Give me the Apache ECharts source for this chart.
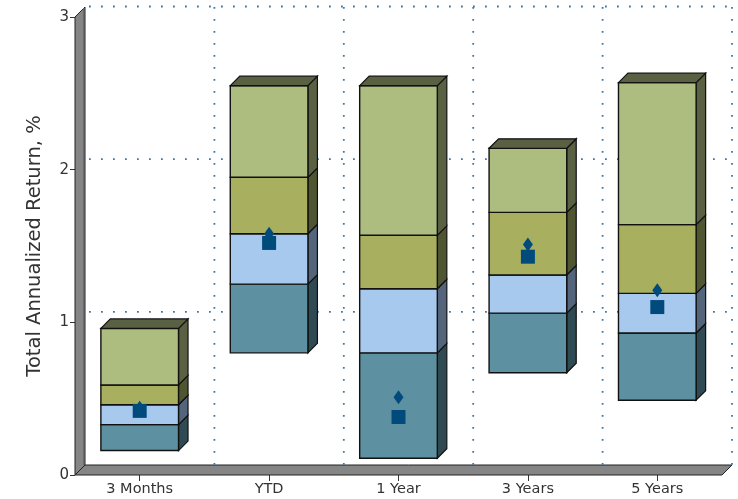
<!DOCTYPE html>
<html>
<head>
<meta charset="utf-8">
<script src="https://cdn.jsdelivr.net/npm/echarts@6/dist/echarts.min.js"></script>
<style>
  html, body { margin: 0; padding: 0; background: #fff; }
  #chart { width: 738px; height: 499px; }
</style>
</head>
<body>
<div id="chart"></div>
<script>
// Return periods on the category axis
const periods = ['3 Months', 'YTD', '1 Year', '3 Years', '5 Years'];

// Range bands: each bar is stacked between these percentile boundaries (%)
const pctLow  = [0.16, 0.80, 0.11, 0.67, 0.49];
const pct25   = [0.33, 1.25, 0.80, 1.06, 0.93];
const pct50   = [0.46, 1.58, 1.22, 1.31, 1.19];
const pct75   = [0.59, 1.95, 1.57, 1.72, 1.64];
const pctHigh = [0.96, 2.55, 2.55, 2.14, 2.57];

// Point markers (%)
const squareVals  = [0.42, 1.52, 0.38, 1.43, 1.10];
const diamondVals = [0.44, 1.58, 0.51, 1.51, 1.21];

// Y axis ticks
const yTicks = [0, 1, 2, 3];

// Band colours, bottom band first
const FRONT = ['#5d91a2', '#a8c9ee', '#a8b060', '#adbc7f'];
const SIDE  = ['#2f4a52', '#53647b', '#4f5531', '#5a6143'];
const TOPFACE = '#5a6143';
const WALL = '#858585';
const GRID_DOT = '#3f77a6';
const MARK = '#004b7c';

// Depth offsets of the pseudo-3D look (pixels)
const WALL_DX = 10, WALL_DY = 10;
const BAR_DX = 9.5, BAR_DY = 9.5;

const barData = periods.map((p, i) => [i, pctLow[i], pct25[i], pct50[i], pct75[i], pctHigh[i]]);

function renderFrame(params, api) {
  const cs = params.coordSys;
  const left = cs.x, right = cs.x + cs.width;
  const y0 = api.coord([0, 0])[1];
  const yMax = api.coord([0, yTicks[yTicks.length - 1]])[1];
  const children = [];
  // Left wall
  children.push({
    type: 'polygon',
    shape: { points: [[left, yMax], [left + WALL_DX, yMax - WALL_DY], [left + WALL_DX, y0 - WALL_DY], [left, y0]] },
    style: { fill: WALL, stroke: '#222', lineWidth: 1 }
  });
  children.push({
    type: 'line',
    shape: { x1: left + WALL_DX - 1.5, y1: yMax - WALL_DY + 1, x2: left + WALL_DX - 1.5, y2: y0 - WALL_DY },
    style: { stroke: '#6a6a6a', lineWidth: 1 }
  });
  // Floor
  children.push({
    type: 'polygon',
    shape: { points: [[left, y0], [left + WALL_DX, y0 - WALL_DY], [right + WALL_DX, y0 - WALL_DY], [right, y0]] },
    style: { fill: WALL, stroke: '#222', lineWidth: 1 }
  });
  // Horizontal grid on the back wall
  yTicks.slice(1).forEach(v => {
    const y = api.coord([0, v])[1] - WALL_DY - 0.5;
    children.push({
      type: 'line',
      shape: { x1: left + WALL_DX + 4, y1: y, x2: right + WALL_DX, y2: y },
      style: { stroke: GRID_DOT, lineWidth: 1.8, lineDash: [1.8, 10.2] }
    });
  });
  // Vertical grid at category boundaries
  const band = api.size([1, 0])[0];
  periods.forEach((p, i) => {
    const x = api.coord([i, 0])[0] + band / 2 + WALL_DX;
    children.push({
      type: 'line',
      shape: { x1: x, y1: yMax - WALL_DY, x2: x, y2: y0 - WALL_DY },
      style: { stroke: GRID_DOT, lineWidth: 1.8, lineDash: [1.8, 10.2] }
    });
  });
  return { type: 'group', children: children };
}

function renderBar(params, api) {
  const c = api.value(0);
  const w = api.size([1, 0])[0] * 0.6;
  const cx = api.coord([c, 0])[0];
  const x0 = cx - w / 2, x1 = cx + w / 2;
  const children = [];
  let yt = 0;
  for (let s = 0; s < 4; s++) {
    const yb = api.coord([c, api.value(1 + s)])[1];
    yt = api.coord([c, api.value(2 + s)])[1];
    children.push({
      type: 'polygon',
      shape: { points: [[x1, yb], [x1 + BAR_DX, yb - BAR_DY], [x1 + BAR_DX, yt - BAR_DY], [x1, yt]] },
      style: { fill: SIDE[s], stroke: '#111', lineWidth: 1.2 }
    });
    children.push({
      type: 'rect',
      shape: { x: x0, y: yt, width: w, height: yb - yt },
      style: { fill: FRONT[s], stroke: '#111', lineWidth: 1.4 }
    });
  }
  children.push({
    type: 'polygon',
    shape: { points: [[x0, yt], [x0 + BAR_DX, yt - BAR_DY], [x1 + BAR_DX, yt - BAR_DY], [x1, yt]] },
    style: { fill: TOPFACE, stroke: '#111', lineWidth: 1.2 }
  });
  return { type: 'group', children: children };
}

const chart = echarts.init(document.getElementById('chart'));
chart.setOption({
  animation: false,
  textStyle: { fontFamily: 'DejaVu Sans' },
  grid: { left: 75, right: 16, top: 17, bottom: 24 },
  xAxis: {
    type: 'category',
    data: periods,
    axisLine: { show: false },
    axisTick: { show: true, alignWithLabel: true, length: 6, lineStyle: { color: '#333' } },
    axisLabel: { color: '#333', fontSize: 14.5, margin: 7 },
    splitLine: { show: false }
  },
  yAxis: {
    type: 'value',
    min: 0, max: 3, interval: 1,
    name: 'Total Annualized Return, %',
    nameLocation: 'middle',
    nameGap: 30,
    nameTextStyle: { color: '#333', fontSize: 19.5 },
    axisLine: { show: false },
    axisTick: { show: true, length: 5, lineStyle: { color: '#333' } },
    axisLabel: { color: '#333', fontSize: 15, margin: 6 },
    splitLine: { show: false }
  },
  series: [
    {
      type: 'custom',
      renderItem: renderFrame,
      data: [[0, 0]],
      silent: true,
      z: 1
    },
    {
      type: 'custom',
      renderItem: renderBar,
      encode: { x: 0, y: [1, 2, 3, 4, 5] },
      data: barData,
      silent: true,
      z: 2
    },
    {
      type: 'scatter',
      symbol: 'diamond',
      symbolSize: [10, 14],
      itemStyle: { color: MARK, opacity: 1 },
      data: diamondVals.map((v, i) => [i, v]),
      z: 3
    },
    {
      type: 'scatter',
      symbol: 'rect',
      symbolSize: 14,
      itemStyle: { color: MARK, opacity: 1 },
      data: squareVals.map((v, i) => [i, v]),
      z: 4
    }
  ]
});
</script>
</body>
</html>
